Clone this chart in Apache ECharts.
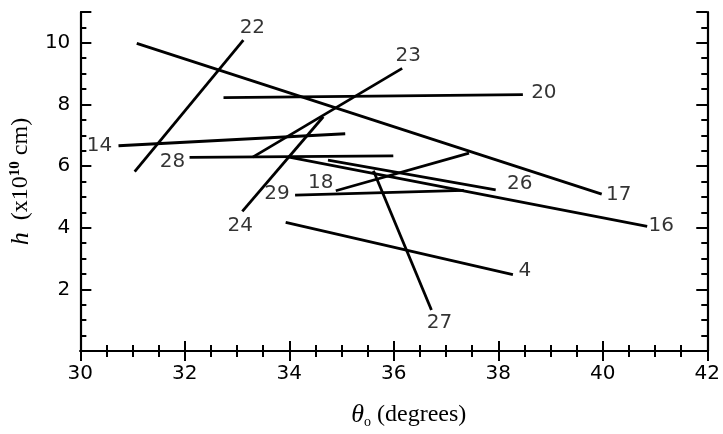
<!DOCTYPE html>
<html><head><meta charset="utf-8">
<script src="https://cdn.jsdelivr.net/npm/echarts@6/dist/echarts.min.js"></script>
<style>html,body{margin:0;padding:0;background:#fff}#c{width:723px;height:434px}</style>
</head><body><div id="c"></div>
<script>
// Segment identifiers and endpoints (theta_0 in degrees, h in 1e10 cm)
const segNames = ['22','17','20','14','28','23','24','18','29','26','16','27','4'];
const xStart = [31.04, 31.08, 32.74, 30.73, 32.09, 33.30, 33.10, 34.89, 34.11, 34.74, 33.97, 35.61, 33.93];
const yStart = [5.82, 9.98, 8.22, 6.66, 6.28, 6.29, 4.53, 5.20, 5.06, 6.19, 6.30, 5.85, 4.17];
const xEnd   = [33.12, 39.98, 38.47, 35.07, 35.99, 36.16, 34.65, 37.44, 37.34, 37.95, 40.85, 36.72, 38.28];
const yEnd   = [10.09, 5.09, 8.32, 7.05, 6.33, 9.17, 7.60, 6.42, 5.21, 5.23, 4.04, 1.33, 2.48];
// which end carries the label (0 = start, 1 = end)
const labelEnd = [1, 1, 1, 0, 0, 1, 0, 0, 0, 1, 1, 1, 1];
// label offsets in pixels (style only)
const labelOffset = [[9,-12],[17,1],[21,-2],[-19,0],[-17,4],[6,-13],[-2,14],[-15,-8],[-18,-1],[24,-6],[14,-1],[8,13],[12,-4]];

const xTicks = [30, 32, 34, 36, 38, 40, 42];
const yTicks = [2, 4, 6, 8, 10];

const FONT = 'DejaVu Sans';
const series = [];
segNames.forEach((n, i) => {
  series.push({
    type: 'line', name: n, xAxisIndex: 0, yAxisIndex: 0,
    data: [[xStart[i], yStart[i]], [xEnd[i], yEnd[i]]],
    symbol: 'none', silent: true,
    lineStyle: { color: '#000', width: 2.8 },
    z: 3
  });
});
series.push({
  type: 'scatter', xAxisIndex: 0, yAxisIndex: 0, symbolSize: 1,
  itemStyle: { color: 'rgba(0,0,0,0)' }, silent: true,
  data: segNames.map((n, i) => ({
    value: labelEnd[i] ? [xEnd[i], yEnd[i]] : [xStart[i], yStart[i]],
    name: n,
    label: { show: true, position: 'inside', offset: labelOffset[i], formatter: n,
      color: '#000', fontFamily: FONT, fontSize: 20 }
  })),
  z: 4
});

const chart = echarts.init(document.getElementById('c'), null, { renderer: 'canvas' });
chart.setOption({
  animation: false,
  backgroundColor: '#fff',
  grid: { left: 77, right: 11, top: 12, bottom: 77, containLabel: false },
  xAxis: [
    {
      type: 'value', min: 30, max: 42, interval: 2, position: 'bottom',
      name: '{i|θ}{sub|o} (degrees)', nameLocation: 'middle', nameGap: 50,
      nameTextStyle: { fontFamily: 'Liberation Serif', fontSize: 24, color: '#000', padding: [0,0,0,30],
        rich: { i: { fontFamily: 'Liberation Serif', fontStyle: 'italic', fontSize: 26, color: '#000' },
                sub: { fontFamily: 'Liberation Serif', fontSize: 14, color: '#000', verticalAlign: 'bottom', padding: [14,0,0,0] } } },
      axisLine: { lineStyle: { color: '#000', width: 2.2 } },
      axisTick: { inside: true, length: 10, lineStyle: { color: '#000', width: 2 } },
      minorTick: { show: true, splitNumber: 4, length: 6, lineStyle: { color: '#000', width: 2 } },
      splitLine: { show: false },
      axisLabel: { color: '#000', fontFamily: FONT, fontSize: 20, margin: 13,
        formatter: v => xTicks.includes(v) ? String(v) : '' }
    },
    {
      type: 'value', min: 30, max: 42, interval: 2, position: 'top',
      axisLine: { lineStyle: { color: '#000', width: 2.2 } },
      axisTick: { inside: true, length: 10, lineStyle: { color: '#000', width: 2 } },
      minorTick: { show: true, splitNumber: 4, length: 6, lineStyle: { color: '#000', width: 2 } },
      splitLine: { show: false }, axisLabel: { show: false }
    }
  ],
  yAxis: [
    {
      type: 'value', min: 0, max: 11, interval: 2, position: 'left',
      name: '{i|h}  (x10{sup|10} cm)', nameLocation: 'middle', nameGap: 46, nameRotate: 90,
      nameTextStyle: { fontFamily: 'Liberation Serif', fontSize: 24, color: '#000',
        rich: { i: { fontFamily: 'Liberation Serif', fontStyle: 'italic', fontSize: 26, color: '#000' },
                sup: { fontFamily: 'Liberation Serif', fontWeight: 'bold', fontSize: 15, color: '#000', verticalAlign: 'top', padding: [0,0,10,0] } } },
      axisLine: { lineStyle: { color: '#000', width: 2.2 } },
      axisTick: { inside: true, length: 11, lineStyle: { color: '#000', width: 2 } },
      minorTick: { show: true, splitNumber: 4, length: 6, lineStyle: { color: '#000', width: 2 } },
      splitLine: { show: false },
      axisLabel: { color: '#000', fontFamily: FONT, fontSize: 20, margin: 10,
        formatter: v => yTicks.includes(v) ? String(v) : '' }
    },
    {
      type: 'value', min: 0, max: 11, interval: 2, position: 'right',
      axisLine: { lineStyle: { color: '#000', width: 2.2 } },
      axisTick: { inside: true, length: 11, lineStyle: { color: '#000', width: 2 } },
      minorTick: { show: true, splitNumber: 4, length: 6, lineStyle: { color: '#000', width: 2 } },
      splitLine: { show: false }, axisLabel: { show: false }
    }
  ],
  series: series
});
</script>
</body></html>
